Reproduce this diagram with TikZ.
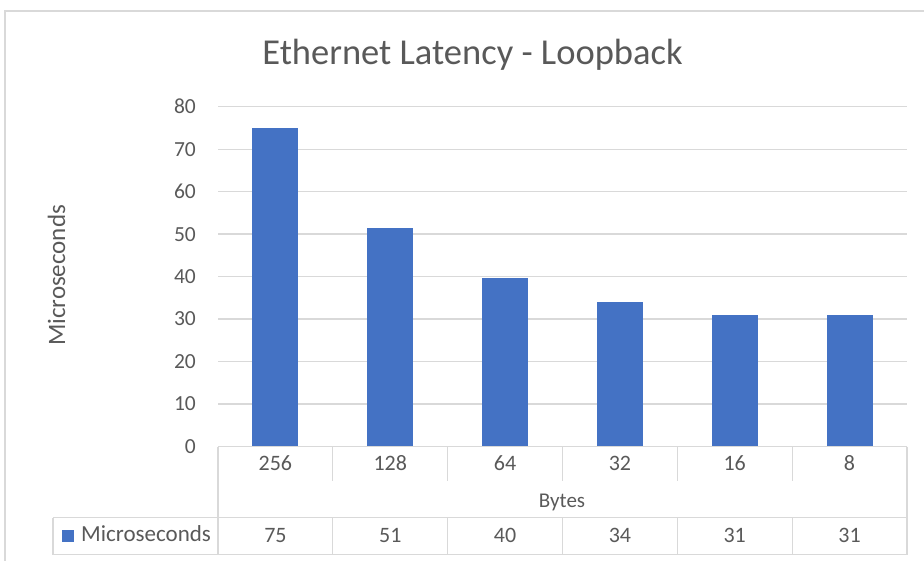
\documentclass[tikz,border=0pt]{standalone}
\usepackage{fontspec}
\setmainfont{Carlito}
\definecolor{txt}{HTML}{595959}
\definecolor{gridc}{HTML}{D9D9D9}
\definecolor{barc}{HTML}{4472C4}
\begin{document}
\begin{tikzpicture}[x=1pt,y=-1pt,
  lbl/.style={text=txt, inner sep=0pt},
  gline/.style={draw=gridc, line width=1.3pt},
  barbox/.style={fill=barc, draw=none}]
\useasboundingbox (0,0) rectangle (924,561);
\clip (0,0) rectangle (924,561);
% frame
\draw[gline] (5,11) rectangle (950,590);
% gridlines and ticks
\foreach \v in {10,20,...,80}{
  \draw[gline] (218,{446.5-4.2475*\v}) -- (907,{446.5-4.2475*\v});
}
\foreach \v in {0,10,...,80}{
  \node[lbl, anchor=east, font=\fontsize{21.5}{24}\selectfont] (t\v) at (196,{446.5-4.2475*\v}) {\v};
}
% bars
\foreach \i/\val in {0/75,1/51.4,2/39.7,3/34,4/30.9,5/30.9}{
  \fill[barc] ({218+114.83*(\i+0.5)-23},446.5) rectangle ({218+114.83*(\i+0.5)+23},{446.5-4.2475*\val});
}
% table
\draw[gline] (218,446.5) -- (907,446.5);
\draw[gline] (218,446.5) -- (218,554.5);
\draw[gline] (907,446.5) -- (907,554.5);
\draw[gline] (53,517.5) -- (907,517.5);
\draw[gline] (53,554.5) -- (907,554.5);
\draw[gline] (53,517.5) -- (53,554.5);
\foreach \i in {1,...,5}{
  \draw[gline] ({218+114.83*\i},446.5) -- ({218+114.83*\i},481);
  \draw[gline] ({218+114.83*\i},517.5) -- ({218+114.83*\i},554.5);
}
\foreach \i/\c/\d in {0/256/75,1/128/51,2/64/40,3/32/34,4/16/31,5/8/31}{
  \node[lbl, font=\fontsize{22}{24}\selectfont] (c\i) at ({218+114.83*(\i+0.5)},463.5) {\c};
  \node[lbl, font=\fontsize{22}{24}\selectfont] (d\i) at ({218+114.83*(\i+0.5)},535.5) {\d};
}
\node[lbl, anchor=base, font=\fontsize{21}{24}\selectfont] (bytes) at (562,507) {Bytes};
% legend
\fill[barc] (62,529.5) rectangle (74,541.5);
\node[lbl, anchor=base west, font=\fontsize{23}{26}\selectfont] (leg) at (81,541.7) {Microseconds};
% axis title
\node[lbl, anchor=base, rotate=90, font=\fontsize{25}{27}\selectfont] (ytitle) at (65,275.5) {Microseconds};
% title
\node[lbl, anchor=base, font=\fontsize{36.5}{40}\selectfont] (title) at (472.5,64.3) {Ethernet Latency - Loopback};
\end{tikzpicture}
\end{document}
